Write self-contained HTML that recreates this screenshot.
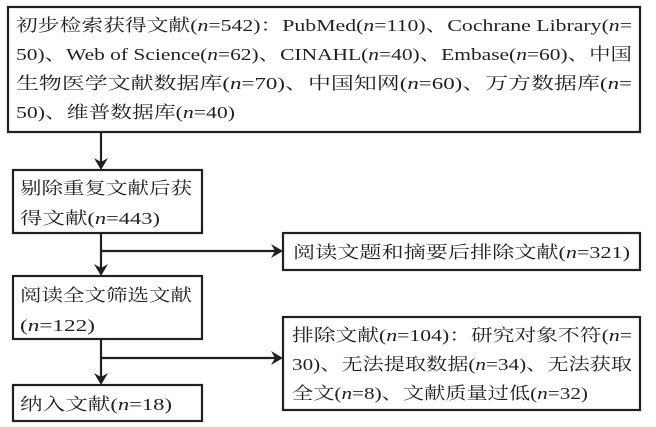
<!DOCTYPE html>
<html><head><meta charset="utf-8"><style>
html,body{margin:0;padding:0;background:#fff;}
svg{display:block;}
text{font-family:"Liberation Serif","Noto Serif CJK SC",serif;font-size:17px;fill:#231f20;}
.i{font-style:italic;}
</style></head><body>
<svg width="656" height="427" viewBox="0 0 656 427" xmlns="http://www.w3.org/2000/svg">
<g fill="none" stroke="#231f20" stroke-width="2.2">
<rect x="8" y="7" width="632" height="125"/>
<rect x="13" y="170" width="189" height="63"/>
<rect x="283" y="233" width="357" height="37"/>
<rect x="13" y="276" width="189" height="63"/>
<rect x="283" y="317" width="357" height="93"/>
<rect x="13" y="385" width="189" height="36"/>
<line x1="101" y1="132" x2="101" y2="162"/>
<line x1="101" y1="233" x2="101" y2="268"/>
<line x1="101" y1="251" x2="276" y2="251"/>
<line x1="101" y1="339" x2="101" y2="377"/>
<line x1="101" y1="358" x2="276" y2="358"/>
</g>
<g fill="#231f20">
<polygon points="94,158 101,170 108,158 101,162"/>
<polygon points="94,264 101,276 108,264 101,268"/>
<polygon points="94,373 101,385 108,373 101,377"/>
<polygon points="271,244 283,251 271,258 275,251"/>
<polygon points="271,351 283,358 271,365 275,358"/>
</g>
<text x="16" y="31" textLength="616" lengthAdjust="spacingAndGlyphs">初步检索获得文献(<tspan class="i">n</tspan>=542)：PubMed(<tspan class="i">n</tspan>=110)、Cochrane Library(<tspan class="i">n</tspan>=</text>
<text x="16" y="60" textLength="616" lengthAdjust="spacingAndGlyphs">50)、Web of Science(<tspan class="i">n</tspan>=62)、CINAHL(<tspan class="i">n</tspan>=40)、Embase(<tspan class="i">n</tspan>=60)、中国</text>
<text x="16" y="89" textLength="616" lengthAdjust="spacingAndGlyphs">生物医学文献数据库(<tspan class="i">n</tspan>=70)、中国知网(<tspan class="i">n</tspan>=60)、万方数据库(<tspan class="i">n</tspan>=</text>
<text x="16" y="118" textLength="219" lengthAdjust="spacingAndGlyphs">50)、维普数据库(<tspan class="i">n</tspan>=40)</text>
<text x="20" y="194" textLength="172" lengthAdjust="spacingAndGlyphs">剔除重复文献后获</text>
<text x="20" y="224" textLength="140" lengthAdjust="spacingAndGlyphs">得文献(<tspan class="i">n</tspan>=443)</text>
<text x="293" y="258" textLength="337" lengthAdjust="spacingAndGlyphs">阅读文题和摘要后排除文献(<tspan class="i">n</tspan>=321)</text>
<text x="20" y="301" textLength="172" lengthAdjust="spacingAndGlyphs">阅读全文筛选文献</text>
<text x="20" y="331" textLength="75" lengthAdjust="spacingAndGlyphs">(<tspan class="i">n</tspan>=122)</text>
<text x="292" y="341" textLength="340" lengthAdjust="spacingAndGlyphs">排除文献(<tspan class="i">n</tspan>=104)：研究对象不符(<tspan class="i">n</tspan>=</text>
<text x="292" y="370" textLength="340" lengthAdjust="spacingAndGlyphs">30)、无法提取数据(<tspan class="i">n</tspan>=34)、无法获取</text>
<text x="292" y="399" textLength="296" lengthAdjust="spacingAndGlyphs">全文(<tspan class="i">n</tspan>=8)、文献质量过低(<tspan class="i">n</tspan>=32)</text>
<text x="20" y="410" textLength="152" lengthAdjust="spacingAndGlyphs">纳入文献(<tspan class="i">n</tspan>=18)</text>
</svg>
</body></html>
